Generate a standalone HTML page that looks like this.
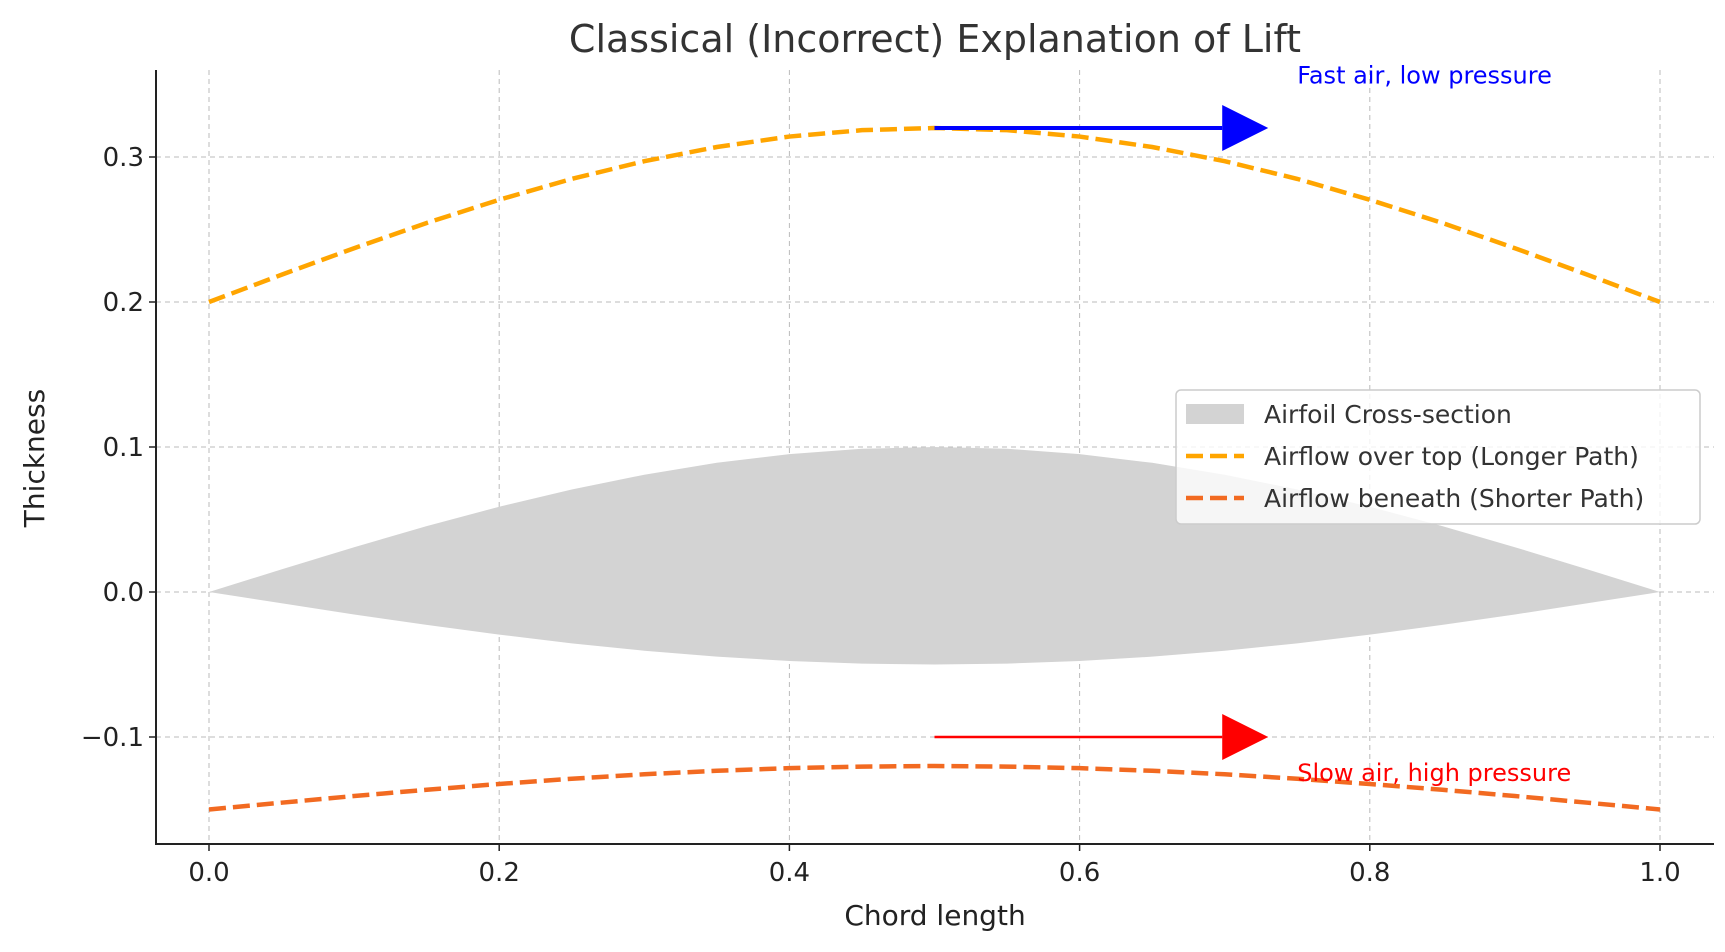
<!DOCTYPE html>
<html><head><meta charset="utf-8"><style>
body{margin:0;background:#fff;}
svg text{font-family:"DejaVu Sans","Liberation Sans",sans-serif;}
</style></head><body>
<svg id="chart" width="1725" height="947" viewBox="0 0 1725 947" xmlns="http://www.w3.org/2000/svg"></svg>
<script>
const xs=[0,0.05,0.1,0.15,0.2,0.25,0.3,0.35,0.4,0.45,0.5,0.55,0.6,0.65,0.7,0.75,0.8,0.85,0.9,0.95,1];
const airfoilUpper=[0,0.0156,0.0309,0.0454,0.0588,0.0707,0.0809,0.0891,0.0951,0.0988,0.1,0.0988,0.0951,0.0891,0.0809,0.0707,0.0588,0.0454,0.0309,0.0156,0];
const airfoilLower=[0,-0.0078,-0.0155,-0.0227,-0.0294,-0.0354,-0.0405,-0.0446,-0.0476,-0.0494,-0.05,-0.0494,-0.0476,-0.0446,-0.0405,-0.0354,-0.0294,-0.0227,-0.0155,-0.0078,0];
const topFlow=[0.2,0.2188,0.2371,0.2545,0.2705,0.2849,0.2971,0.3069,0.3141,0.3185,0.32,0.3185,0.3141,0.3069,0.2971,0.2849,0.2705,0.2545,0.2371,0.2188,0.2];
const bottomFlow=[-0.15,-0.1453,-0.1407,-0.1364,-0.1324,-0.1288,-0.1257,-0.1233,-0.1215,-0.1204,-0.12,-0.1204,-0.1215,-0.1233,-0.1257,-0.1288,-0.1324,-0.1364,-0.1407,-0.1453,-0.15];
const xTicks=[0,0.2,0.4,0.6,0.8,1.0];
const xTickLabels=["0.0","0.2","0.4","0.6","0.8","1.0"];
const yTicks=[-0.1,0,0.1,0.2,0.3];
const yTickLabels=["\u22120.1","0.0","0.1","0.2","0.3"];
const arrowTop=[0.5,0.73,0.32];
const arrowBottom=[0.5,0.73,-0.1];

const svg=document.getElementById('chart');
const NS='http://www.w3.org/2000/svg';
const L=156,R=1714,T=70,B=844;
const X=v=>209+v*(1660-209);
const Y=v=>592-v*1450;
function mk(tag,attrs,parent){const e=document.createElementNS(NS,tag);for(const k in attrs)e.setAttribute(k,attrs[k]);(parent||svg).appendChild(e);return e;}

// grid
xTicks.forEach((t,i)=>{
  const g=mk('line',{x1:X(t),x2:X(t),y1:T,y2:B,stroke:'#bbb','stroke-width':1,'stroke-dasharray':'5,4'});
  
  
  const tk=mk('line',{x1:X(t),x2:X(t),y1:B,y2:B+7,stroke:'#222','stroke-width':1.5});
  
  
  const tx=mk('text',{x:X(t),y:B+37,'text-anchor':'middle','font-size':26,fill:'#222'});
  tx.textContent=xTickLabels[i];
  
  
});
yTicks.forEach((t,i)=>{
  const g=mk('line',{x1:L,x2:R,y1:Y(t),y2:Y(t),stroke:'#bbb','stroke-width':1,'stroke-dasharray':'5,4'});
  
  
  const tk=mk('line',{x1:L-7,x2:L,y1:Y(t),y2:Y(t),stroke:'#222','stroke-width':1.5});
  
  
  const tx=mk('text',{x:L-12,y:Y(t)+9,'text-anchor':'end','font-size':26,fill:'#222'});
  tx.textContent=yTickLabels[i];
  
  
});

// airfoil
let d='M'+xs.map((x,i)=>X(x)+','+Y(airfoilUpper[i])).join(' L');
for(let i=xs.length-1;i>=0;i--)d+=' L'+X(xs[i])+','+Y(airfoilLower[i]);
const af=mk('path',{d:d+'Z',fill:'#d3d3d3'});



function line(vals,color,name){
  const p=mk('path',{d:'M'+xs.map((x,i)=>X(x)+','+Y(vals[i])).join(' L'),fill:'none',stroke:color,'stroke-width':4.5,'stroke-dasharray':'17,7'});
  
  
}
line(topFlow,'#ffa500','airflow-top-line');
line(bottomFlow,'#f26a21','airflow-bottom-line');

function arrow(a,color,name,w){
  const x1=X(a[0]),x2=X(a[1]),y=Y(a[2]),hl=46,hw=23;
  const g=mk('g',{});
  
  
  mk('line',{x1:x1,x2:x2-hl,y1:y,y2:y,stroke:color,'stroke-width':w},g);
  mk('polygon',{points:`${x2-hl},${y-hw} ${x2},${y} ${x2-hl},${y+hw}`,fill:color},g);
}
arrow(arrowTop,'#0000ff','fast-air-arrow',4);
arrow(arrowBottom,'#ff0000','slow-air-arrow',2.5);

const t1=mk('text',{x:X(0.75),y:Y(0.357)+9,'font-size':24,fill:'#0000ff'});
t1.textContent='Fast air, low pressure';


const t2=mk('text',{x:X(0.75),y:Y(-0.124)+9,'font-size':24,fill:'#ff0000'});
t2.textContent='Slow air, high pressure';



// axes spines
const ax=mk('path',{d:`M${L},${T} L${L},${B} L${R},${B}`,fill:'none',stroke:'#222','stroke-width':2});



// titles
const tt=mk('text',{x:935,y:52,'text-anchor':'middle','font-size':38,fill:'#333'});
tt.textContent='Classical (Incorrect) Explanation of Lift';


const xl=mk('text',{x:935,y:925,'text-anchor':'middle','font-size':28,fill:'#222'});
xl.textContent='Chord length';


const yl=mk('text',{x:44,y:458,'text-anchor':'middle','font-size':28,fill:'#222',transform:'rotate(-90 44 458)'});
yl.textContent='Thickness';



// legend
const lg=mk('g',{});


mk('rect',{x:1176,y:390,width:524,height:134,rx:5,fill:'#fff','fill-opacity':0.8,stroke:'#ccc','stroke-width':1.5},lg);
mk('rect',{x:1186,y:404,width:58,height:20,fill:'#d3d3d3'},lg);
mk('line',{x1:1186,x2:1244,y1:456,y2:456,stroke:'#ffa500','stroke-width':4.5,'stroke-dasharray':'17,7'},lg);
mk('line',{x1:1186,x2:1244,y1:498,y2:498,stroke:'#f26a21','stroke-width':4.5,'stroke-dasharray':'17,7'},lg);
[['Airfoil Cross-section',423],['Airflow over top (Longer Path)',465],['Airflow beneath (Shorter Path)',507]].forEach(([s,y])=>{
  const e=mk('text',{x:1264,y:y,'font-size':25,fill:'#333'},lg);
  e.textContent=s;
  
  
});
</script>
</body></html>
